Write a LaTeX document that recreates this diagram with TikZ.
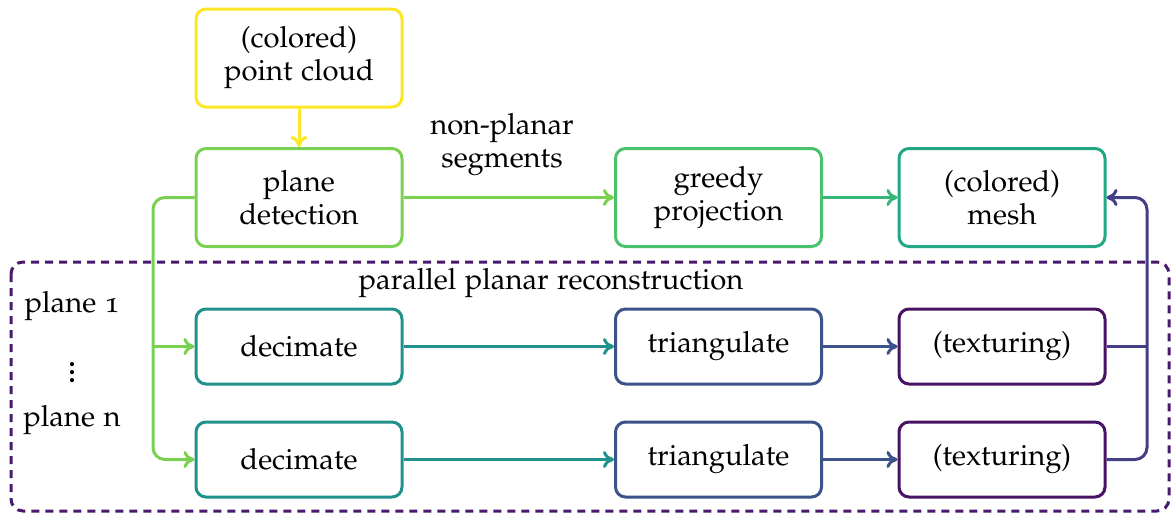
\documentclass[tikz,border=0pt]{standalone}
\usepackage[T1]{fontenc}
\usepackage[osf]{mathpazo}
\usetikzlibrary{arrows.meta,calc}
\definecolor{cyel}{HTML}{FDE725}
\definecolor{cpd}{HTML}{7AD151}
\definecolor{cgp}{HTML}{4AC16D}
\definecolor{cga}{HTML}{35B779}
\definecolor{cme}{HTML}{22A884}
\definecolor{cde}{HTML}{21918C}
\definecolor{ctr}{HTML}{3B528B}
\definecolor{ctx}{HTML}{471365}
\definecolor{cra}{HTML}{433E85}
\definecolor{cdash}{HTML}{481A6C}
\tikzset{
  blk/.style={draw, line width=1.5pt, rounded corners=5pt, minimum width=103pt, align=center, inner sep=0pt, fill=white},
  tall/.style={blk, minimum height=49pt},
  short/.style={blk, minimum height=37.5pt},
  arr/.style={line width=1.5pt, -{To[length=5.5pt,width=8.5pt,round]}},
  ln/.style={line width=1.5pt},
  lbl/.style={align=center, inner sep=0pt},
}
\begin{document}
\begin{tikzpicture}[x=0.5pt,y=-0.5pt,font=\fontsize{14.6}{16.5}\selectfont]
\useasboundingbox (0,0) rectangle (1171,514);
\draw[cdash, line width=1.5pt, dash pattern=on 4pt off 3pt, rounded corners=6pt] (11,262) rectangle (1169,511);
\node[tall, draw=cyel] (pc) at (299,58) {(colored)\\point cloud};
\node[tall, draw=cpd] (pd) at (299,197.5) {plane\\detection};
\node[tall, draw=cgp] (gp) at (718.5,197.5) {greedy\\projection};
\node[tall, draw=cme] (me) at (1002,197.5) {(colored)\\mesh};
\node[short, draw=cde] (d1) at (299,346.5) {decimate};
\node[short, draw=ctr] (t1) at (718.5,346.5) {triangulate};
\node[short, draw=ctx] (x1) at (1002,346.5) {(texturing)};
\node[short, draw=cde] (d2) at (299,459.5) {decimate};
\node[short, draw=ctr] (t2) at (718.5,459.5) {triangulate};
\node[short, draw=ctx] (x2) at (1002,459.5) {(texturing)};
\node[lbl] (np) at (502,145) {non-planar\\segments};
\node[lbl] (ppr) at (551,283) {parallel planar reconstruction};
\node[lbl] (p1) at (72,306) {plane 1};
\node[lbl] (vd) at (72,366) {\fontsize{18}{18}\selectfont$\vdots$};
\node[lbl] (pn) at (72,420) {plane n};
\coordinate (j1) at (153,346.5);
\coordinate (jl) at (153,459.5);
\coordinate (jr) at (1147,197.5);
\coordinate (j2) at (1147,346.5);
\draw[arr, cyel] (pc) -- (pd);
\draw[arr, cpd] (pd) -- (gp);
\draw[arr, cga] (gp) -- (me);
\draw[arr, cpd, rounded corners=6pt] (pd.west) -| (jl) -- (d2.west);
\draw[arr, cpd] (j1) -- (d1.west);
\draw[arr, cde] (d1) -- (t1);
\draw[arr, cde] (d2) -- (t2);
\draw[arr, ctr] (t1) -- (x1);
\draw[arr, ctr] (t2) -- (x2);
\draw[ln, cra] (x1.east) -- (j2);
\draw[arr, cra, rounded corners=6pt] (x2.east) -| (jr) -- (me.east);
\end{tikzpicture}
\end{document}
